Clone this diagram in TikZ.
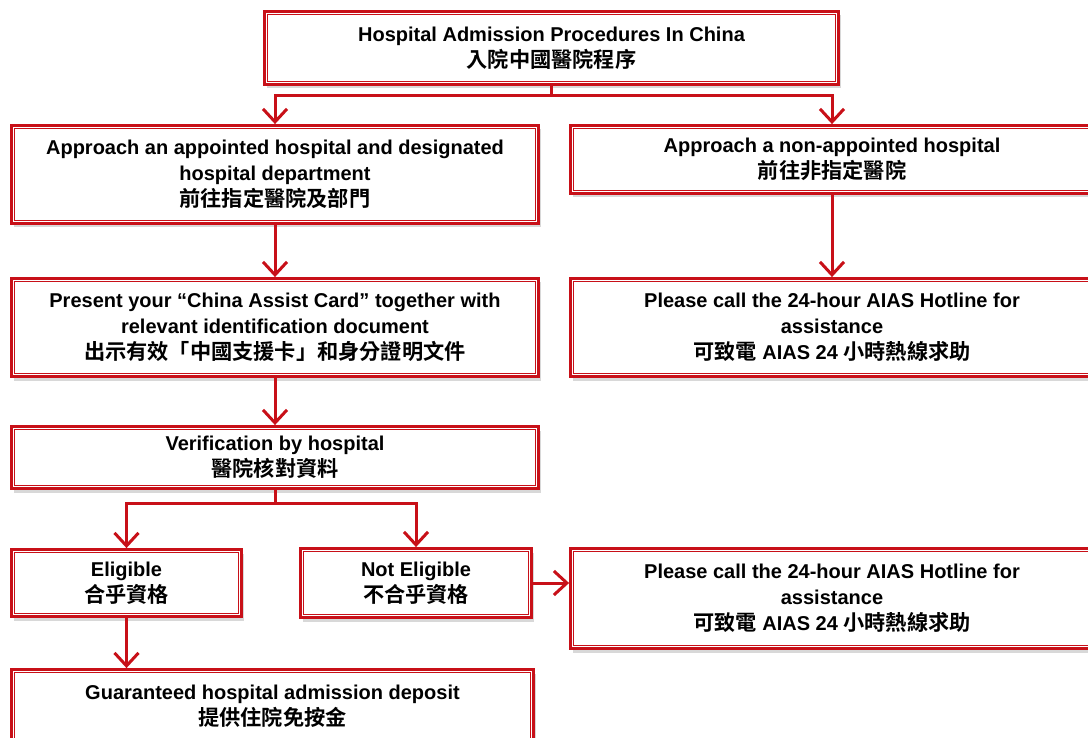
\documentclass[tikz,border=0pt]{standalone}
\usepackage{fontspec}
\setmainfont{Liberation Sans}
\newfontfamily\cjk{Noto Sans CJK TC}[BoldFont={Noto Sans CJK TC Bold}, Scale=1.06]
\usetikzlibrary{shapes,shadows,arrows.meta,calc}
\definecolor{boxred}{RGB}{200,16,24}
\tikzstyle{line} = [draw=boxred, line width=3pt, -{Straight Barb[length=13pt,width=24pt]}]
\tikzstyle{proc} = [rectangle, draw=boxred, line width=2.8pt, fill=white, drop shadow={shadow xshift=2pt, shadow yshift=-4pt, fill=black!30}, align=center, inner sep=0pt, font=\bfseries\fontsize{20}{26}\selectfont]
\tikzstyle{inner} = [draw=boxred, line width=0.9pt]

\begin{document}
\begin{tikzpicture}[x=1pt, y=-1pt]
	\useasboundingbox (0,0) rectangle (1088,738);
	
	\node [proc, minimum width=574pt, minimum height=73pt] (title) at (551.5,48) {Hospital Admission Procedures In China\\{\cjk 入院中國醫院程序}};
	
	% left column
	\node [proc, minimum width=527pt, minimum height=98pt] (appointed) at (275,174.5) {Approach an appointed hospital and designated\\hospital department\\{\cjk 前往指定醫院及部門}};
	\node [proc, below of=appointed, node distance=153pt, minimum width=527pt, minimum height=98pt] (present) {Present your “China Assist Card” together with\\relevant identification document\\{\cjk 出示有效「中國支援卡」和身分證明文件}};
	\node [proc, below of=present, node distance=130pt, minimum width=527pt, minimum height=62pt] (verify) {Verification by hospital\\{\cjk 醫院核對資料}};
	\node [proc, minimum width=230pt, minimum height=67pt] (eligible) at (126.5,583) {Eligible\\{\cjk 合乎資格}};
	\node [proc, right of=eligible, node distance=289.5pt, minimum width=231pt, minimum height=69pt] (noteligible) {Not Eligible\\{\cjk 不合乎資格}};
	\node [proc, minimum width=522pt, minimum height=73pt] (deposit) at (272.5,706) {Guaranteed hospital admission deposit\\{\cjk 提供住院免按金}};
	
	% right column
	\node [proc, minimum width=523pt, minimum height=68pt] (nonappointed) at (832,159.5) {Approach a non-appointed hospital\\{\cjk 前往非指定醫院}};
	\node [proc, right of=present, node distance=557pt, minimum width=523pt, minimum height=98pt] (hotlinea) {Please call the 24-hour AIAS Hotline for\\assistance\\{\cjk 可致電} AIAS 24 {\cjk 小時熱線求助}};
	\node [proc, minimum width=523pt, minimum height=100pt] (hotlineb) at (832,598.5) {Please call the 24-hour AIAS Hotline for\\assistance\\{\cjk 可致電} AIAS 24 {\cjk 小時熱線求助}};
	
	% thin inner frame
	\foreach \n in {title,appointed,present,verify,eligible,noteligible,deposit,nonappointed,hotlinea,hotlineb}
		\path [inner] ($(\n.north west)+(4.4pt,-4.4pt)$) rectangle ($(\n.south east)+(-4.4pt,4.4pt)$);
	
	\path [line] (title.south) -- ++(0,10) -| (appointed.north);
	\path [line] (title.south) -- ++(0,10) -| (nonappointed.north);
	\path [line] (appointed) -- (present);
	\path [line] (nonappointed) -- (hotlinea);
	\path [line] (present) -- (verify);
	\path [line] (verify.south) -- ++(0,14) -| (eligible.north);
	\path [line] (verify.south) -- ++(0,14) -| (noteligible.north);
	\path [line] (eligible.south) -- (eligible.south |- deposit.north);
	\path [line] (noteligible.east) -- (noteligible.east -| hotlineb.west);
\end{tikzpicture}
\end{document}
